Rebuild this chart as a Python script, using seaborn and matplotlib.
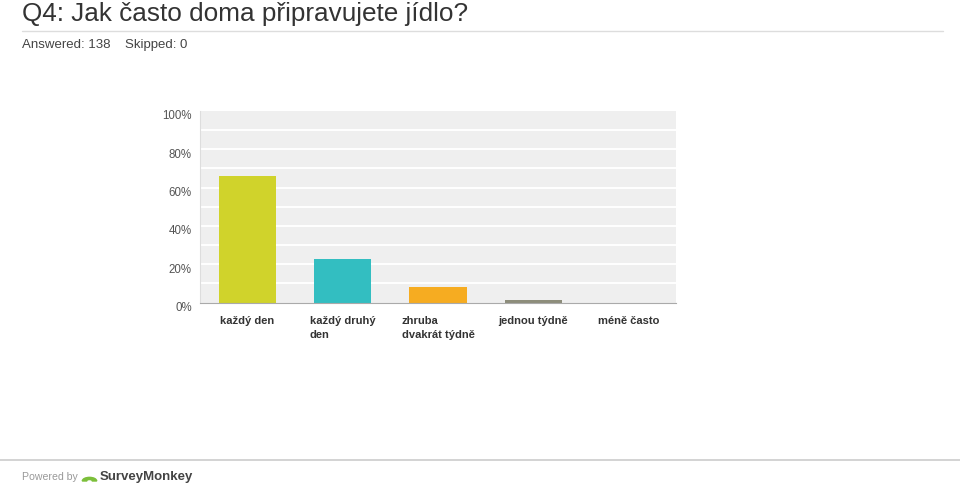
import seaborn as sns
import numpy as np
import pandas as pd
import matplotlib.pyplot as plt
import matplotlib.transforms as mtransforms
from matplotlib.patches import Wedge

sns.set_style("white")
plt.rcParams['font.family'] = ['Liberation Sans', 'DejaVu Sans']

# data (share of 138 answers, in %)
answers = ['každý den', 'každý druhý\nden', 'zhruba\ndvakrát týdně', 'jednou týdně', 'méně často']
percent = [65.9, 22.7, 8.0, 1.2, 0.0]
bar_colors = ['#d0d32b', '#33bec1', '#f6ac21', '#8d8d7b', '#6a6a9a']
y_ticks = [0, 20, 40, 60, 80, 100]
y_labels = ['0%', '20%', '40%', '60%', '80%', '100%']

df = pd.DataFrame({'answer': answers, 'percent': percent})

fig = plt.figure(figsize=(9.6, 4.87), dpi=100)
ax = fig.add_axes([200/960, 1 - 302.5/487, 476/960, 191.5/487])
ax.set_facecolor('#efefef')

sns.barplot(data=df, x='answer', y='percent', hue='answer', palette=bar_colors,
	width=0.6, saturation=1, legend=False, linewidth=0, ax=ax, zorder=3)

ax.set_xlim(-0.5, 4.5)
ax.set_ylim(0, 100)
for y in np.arange(10, 100, 10):
	ax.axhline(y, color='white', lw=1.4, zorder=1)
ax.set_yticks(y_ticks)
ax.set_yticklabels(y_labels, fontsize=8.3, color='#555555')
ax.tick_params(axis='y', length=0, pad=6)
ax.tick_params(axis='x', length=0, pad=10)
off = mtransforms.ScaledTranslation(0, -4/100, fig.dpi_scale_trans)
for lab in ax.get_yticklabels():
	lab.set_transform(lab.get_transform() + off)
ax.set_xticks(range(len(answers)))
ax.set_xticklabels(answers, fontsize=8, fontweight='bold', color='#333333', va='top')
for lab in ax.get_xticklabels():
	lab.set_multialignment('left')
	lab.set_linespacing(1.4)
ax.set_xlabel('')
ax.set_ylabel('')
for side in ['top', 'right']:
	ax.spines[side].set_visible(False)
ax.spines['left'].set_color('#dddddd')
ax.spines['bottom'].set_color('#aaaaaa')
ax.spines['bottom'].set_zorder(4)

# header
fig.text(22/960, 1 - 21.5/487, 'Q4: Jak často doma připravujete jídlo?', fontsize=18.8,
	color='#333333', va='baseline', ha='left')
fig.add_artist(plt.Line2D([22/960, 943/960], [1 - 30.5/487, 1 - 30.5/487], color='#dddddd', lw=1))
fig.text(22/960, 1 - 45/487, 'Answered: 138    Skipped: 0', fontsize=9.5,
	color='#444444', va='center', ha='left')

# footer
fig.add_artist(plt.Line2D([0, 1], [1 - 460/487, 1 - 460/487], color='#cccccc', lw=1.2))
fig.text(22/960, 1 - 477/487, 'Powered by', fontsize=7.6, color='#999999', va='center', ha='left')
fig.add_artist(Wedge((89.5/960, 1 - 481/487), 0.0075, 0, 180, width=0.0045,
	transform=fig.transFigure, color='#7cbf3a'))
fig.text(100/960, 1 - 477/487, 'SurveyMonkey', fontsize=9.5, fontweight='bold',
	color='#444444', va='center', ha='left')

fig.savefig('out.png', dpi=100, facecolor='white')
